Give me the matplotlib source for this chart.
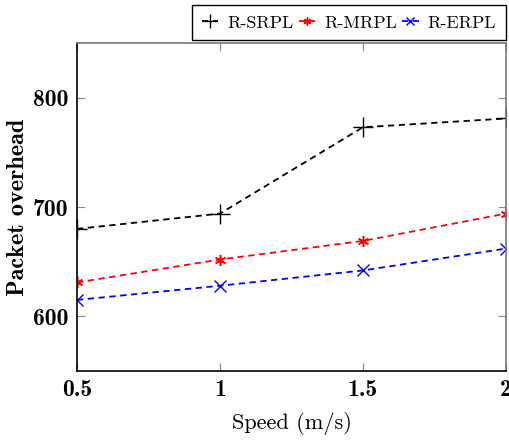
import matplotlib
matplotlib.use("Agg")
import matplotlib.pyplot as plt
from matplotlib.ticker import FixedLocator

speed = [0.5, 1, 1.5, 2]
srpl = [680, 694, 773, 781]
mrpl = [631, 652, 669, 694]
erpl = [615, 628, 642, 662]
series_labels = ["R-SRPL", "R-MRPL", "R-ERPL"]
xticks = [0.5, 1, 1.5, 2]
xtick_labels = ["0.5", "1", "1.5", "2"]
yticks = [600, 700, 800]

plt.rcParams['axes.unicode_minus'] = False
fig = plt.figure(figsize=(5.1, 4.44), dpi=100)
ax = fig.add_axes([0.151, 0.1644, 0.841, 0.7386])

dash = (0, (3.5, 2.5))
ax.plot(speed, srpl, linestyle=dash, color="black", marker="+", markersize=15,
        markeredgewidth=1.0, linewidth=1.3, label=series_labels[0])
ax.plot(speed, mrpl, linestyle=dash, color="red", marker=(6, 2, 0), markersize=8,
        markeredgewidth=1.1, linewidth=1.3, label=series_labels[1])
ax.plot(speed, erpl, linestyle=dash, color="blue", marker="x", markersize=9,
        markeredgewidth=1.0, linewidth=1.3, label=series_labels[2])

ax.set_xlim(0.5, 2)
ax.set_ylim(550, 850)
ax.xaxis.set_major_locator(FixedLocator(xticks))
ax.set_xticklabels(xtick_labels)
ax.yaxis.set_major_locator(FixedLocator(yticks))
ax.tick_params(direction="in", length=6, color="#888888", top=True, right=True, pad=6)
for lab in ax.get_xticklabels() + ax.get_yticklabels():
    lab.set_fontfamily("cmb10")
    lab.set_fontsize(17)

for s in ["left", "bottom"]:
    ax.spines[s].set_color("black")
for s in ["top", "right"]:
    ax.spines[s].set_color("#777777")
for s in ax.spines.values():
    s.set_linewidth(1.2)

ax.set_xlabel("Speed (m/s)", fontfamily="cmr10", fontsize=16, labelpad=8)
ax.set_ylabel("Packet overhead", fontfamily="cmb10", fontsize=17.5, labelpad=3)

leg = ax.legend(loc="lower right", bbox_to_anchor=(1.0, 1.008), ncol=3, frameon=True,
                fancybox=False, edgecolor="black", framealpha=1,
                prop={"family": "cmr10", "size": 13},
                handlelength=0.9, handletextpad=0.5, columnspacing=0.3,
                borderpad=0.55, markerscale=0.7, borderaxespad=0)
leg.get_frame().set_linewidth(1.0)

fig.savefig("out.png", dpi=100)
